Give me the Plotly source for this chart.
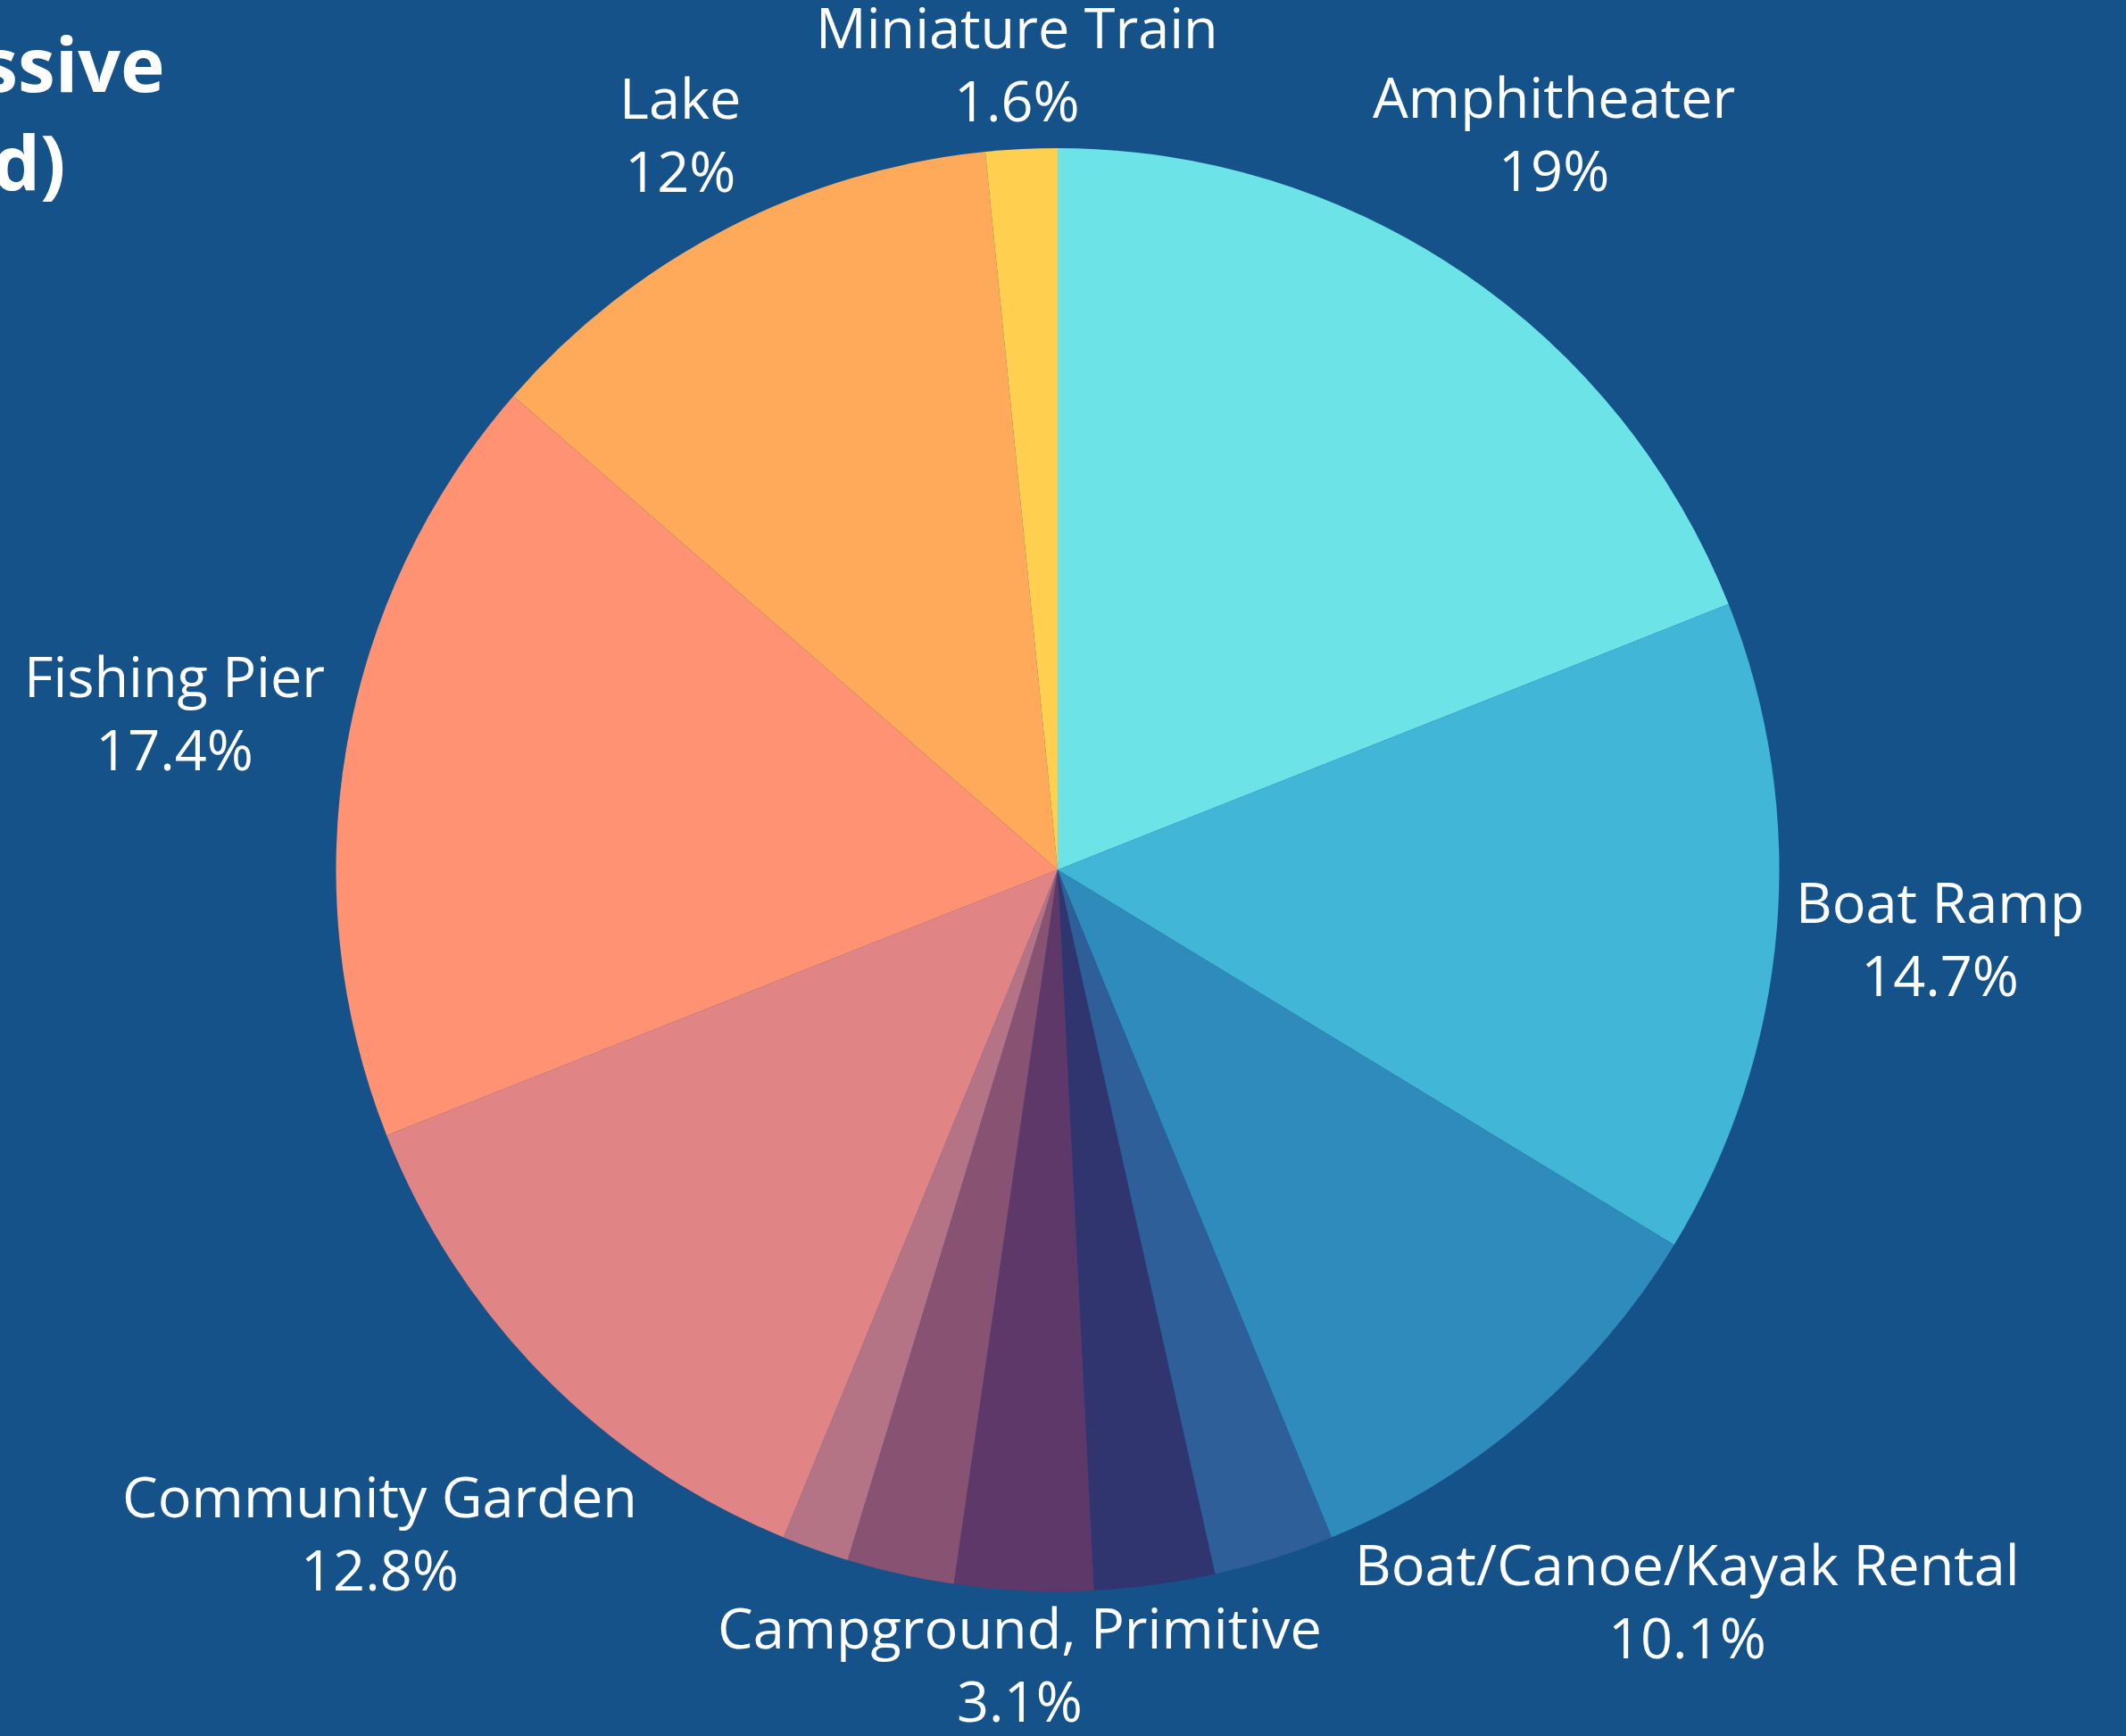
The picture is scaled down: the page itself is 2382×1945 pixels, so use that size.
import math
import plotly.graph_objects as go

# Data (clockwise from 12 o'clock)
categories = [
    "Amphitheater", "Boat Ramp", "Boat/Canoe/Kayak Rental", "Botanical Garden",
    "Campground", "Campground, Primitive", "Campground, RV", "Climbing Wall",
    "Community Garden", "Fishing Pier", "Lake", "Miniature Train",
]
shares = [19.0, 14.7, 10.1, 2.7, 2.7, 3.1, 2.4, 1.5, 12.8, 17.4, 12.0, 1.6]
show_label = [True, True, True, False, False, True, False, False, True, True, True, True]
slice_colors = [
    "#6BE3E7", "#42B6D6", "#2E8BBB", "#2E5F99", "#31356F", "#5E3868",
    "#885373", "#B57386", "#E08486", "#FF9273", "#FFA95A", "#FFCF4F",
]
title_line1 = "Distribution of Passive"
title_line2 = "Amenities (Weighted)"

W, H = 2382, 1945
ML, MR, MT, MB = 159, 171, 166, 162
BG = "#15528A"
LABEL_SIZE = 63
TITLE_SIZE = 84

# approximate Open Sans advance widths (units per em = 2048), for label box size
_ADV = {
    " ": 532, "A": 1296, "B": 1327, "C": 1292, "D": 1493, "E": 1139, "F": 1057, "G": 1491,
    "H": 1511, "I": 571, "J": 547, "K": 1257, "L": 1063, "M": 1849, "N": 1544, "O": 1595,
    "P": 1233, "Q": 1595, "R": 1266, "S": 1124, "T": 1133, "U": 1491, "V": 1219, "W": 1896,
    "X": 1182, "Y": 1147, "Z": 1169, "a": 1139, "b": 1255, "c": 975, "d": 1255, "e": 1149,
    "f": 694, "g": 1122, "h": 1257, "i": 518, "j": 518, "k": 1075, "l": 518, "m": 1905,
    "n": 1257, "o": 1237, "p": 1255, "q": 1255, "r": 836, "s": 977, "t": 723, "u": 1257,
    "v": 1026, "w": 1593, "x": 1073, "y": 1028, "z": 977, ".": 545, "%": 1696, "/": 752,
    ",": 500,
}


def text_width(s, size):
    return sum(_ADV.get(ch, 1171) for ch in s) / 2048.0 * size


def fmt_pct(v, total):
    p = round(v / total * 100.0, 1)
    return f"{p:g}%"


pw = W - ML - MR
ph = H - MT - MB
cx = ML + pw / 2.0
cy = MT + ph / 2.0
radius = min(pw, ph) / 2.0
gap = 18.0


def px_x(px):
    return (px - ML) / pw


def px_y(py):
    return (H - MB - py) / ph


fig = go.Figure(
    go.Pie(
        labels=categories,
        values=shares,
        sort=False,
        direction="clockwise",
        rotation=0,
        automargin=False,
        marker=dict(colors=slice_colors, line=dict(width=0)),
        textinfo="none",
        showlegend=False,
        hoverinfo="label+percent",
    )
)

# outside labels: centred on each slice's mid-angle ray, nearest box edge just outside the rim
annotations = []
total = sum(shares)
cum = 0.0
for name, v, show in zip(categories, shares, show_label):
    mid = (cum + v / 2.0) / total * 2 * math.pi
    cum += v
    if not show:
        continue
    pct = fmt_pct(v, total)
    hw = max(text_width(name, LABEL_SIZE), text_width(pct, LABEL_SIZE)) / 2.0
    hh = 70.0
    ux, uy = math.sin(mid), -math.cos(mid)

    def nearest(d):
        ex = max(0.0, abs(d * ux) - hw)
        ey = max(0.0, abs(d * uy) - hh)
        return math.hypot(ex, ey)

    lo, hi = radius, radius + 3000.0
    for _ in range(80):
        m = (lo + hi) / 2.0
        if nearest(m) < radius + gap:
            lo = m
        else:
            hi = m
    d = (lo + hi) / 2.0
    annotations.append(dict(
        text=f"{name}<br>{pct}", xref="paper", yref="paper",
        x=px_x(cx + d * ux), y=px_y(cy + d * uy - 8),
        xanchor="center", yanchor="middle", showarrow=False, align="center",
        font=dict(family="Open Sans", size=LABEL_SIZE, color="white"),
    ))

annotations += [
    dict(text="<b>" + title_line1 + "</b>", xref="paper", yref="paper",
         x=px_x(187), y=px_y(70), xanchor="right", yanchor="middle",
         showarrow=False, font=dict(family="Open Sans", size=TITLE_SIZE, color="white")),
    dict(text="<b>" + title_line2 + "</b>", xref="paper", yref="paper",
         x=px_x(76), y=px_y(180), xanchor="right", yanchor="middle",
         showarrow=False, font=dict(family="Open Sans", size=TITLE_SIZE, color="white")),
]

fig.update_layout(
    width=W,
    height=H,
    margin=dict(l=ML, r=MR, t=MT, b=MB, autoexpand=False),
    paper_bgcolor=BG,
    plot_bgcolor=BG,
    font=dict(family="Open Sans", color="white", size=LABEL_SIZE),
    annotations=annotations,
)

fig.write_html(
    "out.html",
    config={"displayModeBar": False},
    post_script="document.body.style.margin='0';document.body.style.overflow='hidden';",
)
